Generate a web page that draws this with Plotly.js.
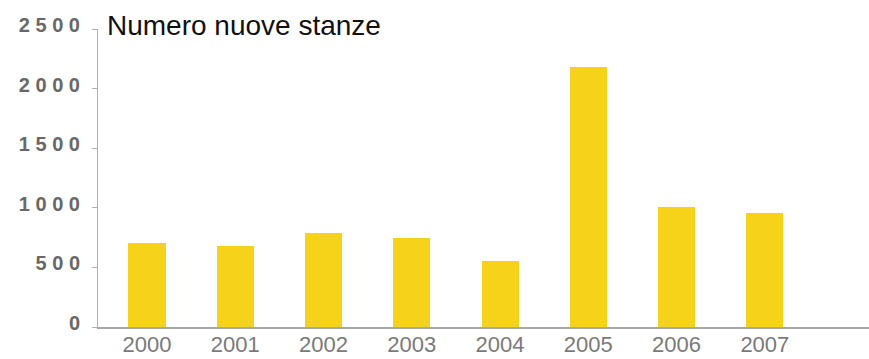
<!DOCTYPE html>
<html>
<head>
<meta charset="utf-8">
<script src="https://cdn.plot.ly/plotly-3.0.1.min.js"></script>
<style>html,body{margin:0;padding:0;background:#fff}#chart{width:869px;height:359px}</style>
</head>
<body>
<div id="chart"></div>
<script>
const years = ["2000","2001","2002","2003","2004","2005","2006","2007"];
const rooms = [705, 680, 785, 745, 550, 2180, 1005, 960];
const yTickVals = [0, 500, 1000, 1500, 2000, 2500];
const yTickText = ["0", "5 0 0", "1 0 0 0", "1 5 0 0", "2 0 0 0", "2 5 0 0"];
const chartTitle = "Numero nuove stanze";

const trace = {
  type: "bar",
  x: years.map((_, i) => i),
  y: rooms,
  width: 0.42,
  marker: {color: "#F6D31A", line: {width: 0}},
  hoverinfo: "x+y"
};

const layout = {
  width: 869, height: 359,
  margin: {l: 98, r: 0, t: 29, b: 32, pad: 0},
  paper_bgcolor: "#ffffff", plot_bgcolor: "#ffffff",
  showlegend: false,
  bargap: 0,
  title: {
    text: chartTitle,
    font: {family: "Liberation Sans, Arial, sans-serif", size: 28, color: "#111111"},
    xref: "container", yref: "container",
    x: 107/869, xanchor: "left",
    y: 1 - 25/359, yanchor: "middle"
  },
  xaxis: {
    range: [-0.555, 8.18],
    tickmode: "array",
    tickvals: years.map((_, i) => i),
    ticktext: years,
    showgrid: false, zeroline: false,
    showline: true, linecolor: "#a8a8a8", linewidth: 1.5,
    ticks: "",
    tickfont: {family: "Liberation Sans, Arial, sans-serif", size: 22, color: "#7a7a7a"},
    ticklabelstandoff: -3,
    fixedrange: true
  },
  yaxis: {
    range: [0, 2500],
    tickmode: "array",
    tickvals: yTickVals,
    ticktext: yTickText,
    showgrid: false, zeroline: false,
    showline: true, linecolor: "#b0b0b0", linewidth: 1,
    ticks: "outside", ticklen: 5, tickcolor: "#b0b0b0", tickwidth: 1,
    tickfont: {family: "Liberation Sans, Arial, sans-serif", size: 20, color: "#686868", weight: "bold"},
    ticklabelstandoff: 8,
    ticklabelshift: -4,
    fixedrange: true
  }
};

Plotly.newPlot("chart", [trace], layout, {displayModeBar: false, staticPlot: true});
</script>
</body>
</html>
